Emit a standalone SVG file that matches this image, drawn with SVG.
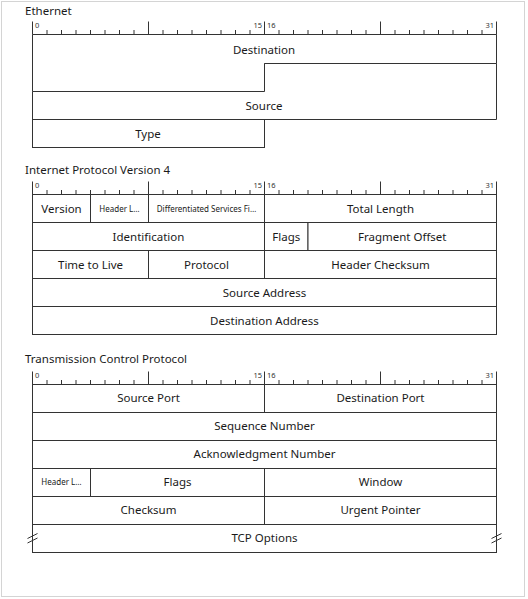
<svg xmlns="http://www.w3.org/2000/svg" xmlns:xlink="http://www.w3.org/1999/xlink" width="528" height="599" viewBox="0 0 528 599">
<style>
.f{fill:#fff;stroke:#333;stroke-width:1}
.l{fill:none;stroke:#333;stroke-width:1}
.t{font-family:"Noto Sans","Liberation Sans",sans-serif;font-size:11.5px;fill:#1a1a1a;text-anchor:middle}
.s{font-family:"Noto Sans","Liberation Sans",sans-serif;font-size:8px;fill:#1a1a1a;text-anchor:middle}
.h{font-family:"Noto Sans","Liberation Sans",sans-serif;font-size:11.5px;fill:#1a1a1a}
.r{font-family:"Noto Sans","Liberation Sans",sans-serif;font-size:7.5px;fill:#333}
</style>
<defs>
<g id="ruler">
<path class="l" d="M32.5,-13V0H496.5V-13M264.5,-13V0M148.5,-13V0M380.5,-13V0M47,-4.5V0M61.5,-4.5V0M76,-4.5V0M90.5,-4.5V0M105,-4.5V0M119.5,-4.5V0M134,-4.5V0M163,-4.5V0M177.5,-4.5V0M192,-4.5V0M206.5,-4.5V0M221,-4.5V0M235.5,-4.5V0M250,-4.5V0M279,-4.5V0M293.5,-4.5V0M308,-4.5V0M322.5,-4.5V0M337,-4.5V0M351.5,-4.5V0M366,-4.5V0M395,-4.5V0M409.5,-4.5V0M424,-4.5V0M438.5,-4.5V0M453,-4.5V0M467.5,-4.5V0M482,-4.5V0"/>
<text class="r" x="35" y="-6.5">0</text>
<text class="r" x="262" y="-6.5" text-anchor="end">15</text>
<text class="r" x="267" y="-6.5">16</text>
<text class="r" x="494" y="-6.5" text-anchor="end">31</text>
</g>
</defs>
<rect x="1.5" y="1.5" width="523" height="595" fill="#fff" stroke="#d4d4d4"/>

<g id="ethernet">
<text class="h" x="25" y="14.5">Ethernet</text>
<use xlink:href="#ruler" href="#ruler" transform="translate(0,34.5)"/>
<g id="eth-destination">
<path class="f" d="M32.5,34.5H496.5V63.5H264.5V91.5H32.5Z"/>
<text class="t" x="264" y="53.5">Destination</text>
</g>
<g id="eth-source">
<path class="f" d="M264.5,63.5H496.5V119.5H32.5V91.5H264.5Z"/>
<text class="t" x="264" y="110">Source</text>
</g>
<g id="eth-type">
<rect class="f" x="32.5" y="119.5" width="232" height="28"/>
<text class="t" x="148" y="138">Type</text>
</g>
</g>

<g id="ipv4">
<text class="h" x="25" y="174">Internet Protocol Version 4</text>
<use xlink:href="#ruler" href="#ruler" transform="translate(0,194.5)"/>
<g id="ip-version"><rect class="f" x="32.5" y="194.5" width="58" height="28"/><text class="t" x="61.5" y="212.5">Version</text></g>
<g id="ip-ihl"><rect class="f" x="90.5" y="194.5" width="58" height="28"/><text class="s" x="119.5" y="211.5">Header L…</text></g>
<g id="ip-dsf"><rect class="f" x="148.5" y="194.5" width="116" height="28"/><text class="s" x="206.5" y="211.5">Differentiated Services Fi…</text></g>
<g id="ip-total-length"><rect class="f" x="264.5" y="194.5" width="232" height="28"/><text class="t" x="380.5" y="212.5">Total Length</text></g>
<g id="ip-identification"><rect class="f" x="32.5" y="222.5" width="232" height="28"/><text class="t" x="148.5" y="240.5">Identification</text></g>
<g id="ip-flags"><rect class="f" x="264.5" y="222.5" width="43.5" height="28"/><text class="t" x="286.25" y="240.5">Flags</text></g>
<g id="ip-fragment-offset"><rect class="f" x="308" y="222.5" width="188.5" height="28"/><text class="t" x="402.25" y="240.5">Fragment Offset</text></g>
<g id="ip-ttl"><rect class="f" x="32.5" y="250.5" width="116" height="28"/><text class="t" x="90.5" y="268.5">Time to Live</text></g>
<g id="ip-protocol"><rect class="f" x="148.5" y="250.5" width="116" height="28"/><text class="t" x="206.5" y="268.5">Protocol</text></g>
<g id="ip-header-checksum"><rect class="f" x="264.5" y="250.5" width="232" height="28"/><text class="t" x="380.5" y="268.5">Header Checksum</text></g>
<g id="ip-source-address"><rect class="f" x="32.5" y="278.5" width="464" height="28"/><text class="t" x="264.5" y="296.5">Source Address</text></g>
<g id="ip-destination-address"><rect class="f" x="32.5" y="306.5" width="464" height="28"/><text class="t" x="264.5" y="324.5">Destination Address</text></g>
</g>

<g id="tcp">
<text class="h" x="25" y="362.5">Transmission Control Protocol</text>
<use xlink:href="#ruler" href="#ruler" transform="translate(0,384.5)"/>
<g id="tcp-source-port"><rect class="f" x="32.5" y="384.5" width="232" height="28"/><text class="t" x="148.5" y="402">Source Port</text></g>
<g id="tcp-destination-port"><rect class="f" x="264.5" y="384.5" width="232" height="28"/><text class="t" x="380.5" y="402">Destination Port</text></g>
<g id="tcp-sequence-number"><rect class="f" x="32.5" y="412.5" width="464" height="28"/><text class="t" x="264.5" y="430">Sequence Number</text></g>
<g id="tcp-ack-number"><rect class="f" x="32.5" y="440.5" width="464" height="28"/><text class="t" x="264.5" y="458">Acknowledgment Number</text></g>
<g id="tcp-header-length"><rect class="f" x="32.5" y="468.5" width="58" height="28"/><text class="s" x="61.5" y="485">Header L…</text></g>
<g id="tcp-flags"><rect class="f" x="90.5" y="468.5" width="174" height="28"/><text class="t" x="177.5" y="486">Flags</text></g>
<g id="tcp-window"><rect class="f" x="264.5" y="468.5" width="232" height="28"/><text class="t" x="380.5" y="486">Window</text></g>
<g id="tcp-checksum"><rect class="f" x="32.5" y="496.5" width="232" height="28"/><text class="t" x="148.5" y="514">Checksum</text></g>
<g id="tcp-urgent-pointer"><rect class="f" x="264.5" y="496.5" width="232" height="28"/><text class="t" x="380.5" y="514">Urgent Pointer</text></g>
<g id="tcp-options"><rect class="f" x="32.5" y="524.5" width="464" height="28"/><text class="t" x="264.5" y="542">TCP Options</text>
<path class="l" d="M27.5,538.5L37.5,533.5M27.5,543L37.5,538M491.5,538.5L501.5,533.5M491.5,543L501.5,538"/>
</g>
</g>
</svg>
